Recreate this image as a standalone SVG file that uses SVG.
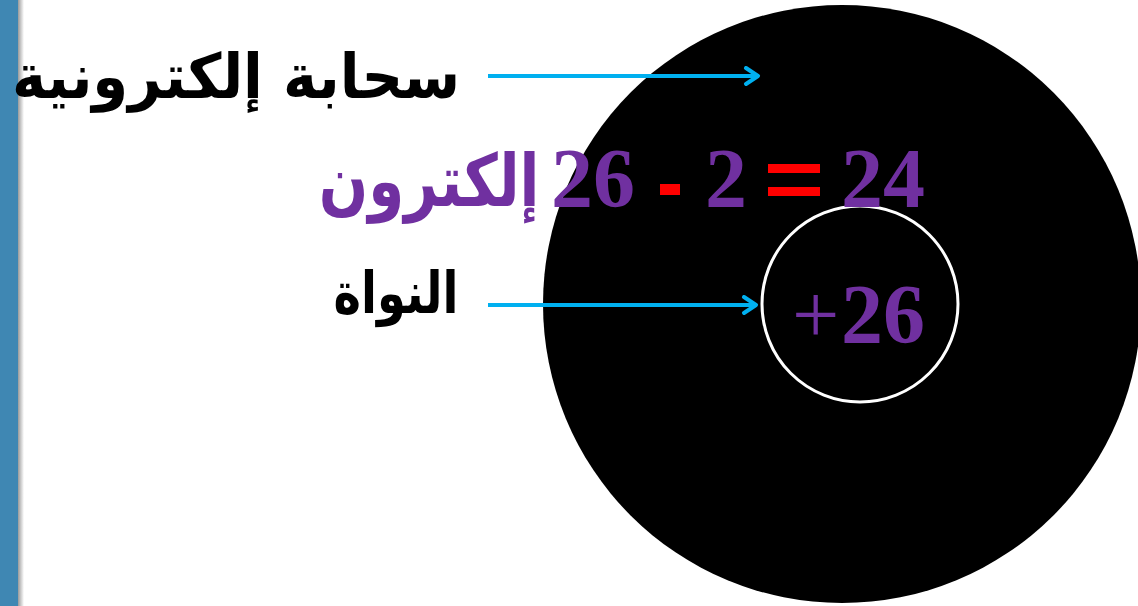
<svg xmlns="http://www.w3.org/2000/svg" width="1138" height="606" viewBox="0 0 1138 606">
<defs>
<linearGradient id="shadow" x1="0" y1="0" x2="1" y2="0">
<stop offset="0" stop-color="#9a9a9a"/>
<stop offset="1" stop-color="#ffffff"/>
</linearGradient>
<marker id="chev" viewBox="0 0 20 20" refX="16" refY="10" markerWidth="20" markerHeight="20" markerUnits="userSpaceOnUse" orient="auto">
<path d="M4,2 L16,10 L4,18" fill="none" stroke="#00B0F0" stroke-width="4" stroke-linecap="round" stroke-linejoin="round"/>
</marker>
<style>
.ar{font-family:"DejaVu Sans",sans-serif;font-weight:bold;}
.num{font-family:"Liberation Serif",serif;font-weight:bold;fill:#7030A0;}
.conn{stroke:#00B0F0;stroke-width:4;fill:none;marker-end:url(#chev);}
</style>
</defs>
<rect width="1138" height="606" fill="#ffffff"/>
<rect x="18" y="0" width="6" height="606" fill="url(#shadow)"/>
<rect x="0" y="0" width="18" height="606" fill="#3F87B3"/>
<g id="cloud">
<circle cx="842" cy="304" r="299" fill="#000000"/>
</g>
<g id="nucleus">
<circle cx="860" cy="304" r="98" fill="#000000" stroke="#ffffff" stroke-width="3"/>
<text x="792" y="343" class="num" font-size="84" style="font-weight:normal">+</text>
<text x="841" y="343" class="num" font-size="84">26</text>
</g>
<g id="label-cloud">
<text x="236" y="98" class="ar" font-size="62" text-anchor="middle" direction="rtl" textLength="448" lengthAdjust="spacingAndGlyphs">سحابة إلكترونية</text>
</g>
<g id="label-nucleus">
<text x="396" y="313" class="ar" font-size="58" text-anchor="middle" direction="rtl" textLength="125" lengthAdjust="spacingAndGlyphs">النواة</text>
</g>
<g id="equation">
<text transform="translate(429,206) scale(1,1.25)" x="0" y="0" class="ar" font-size="58" fill="#7030A0" text-anchor="middle" direction="rtl">إلكترون</text>
<text x="551" y="207" class="num" font-size="84">26</text>
<rect x="660" y="184" width="20" height="11" fill="#FF0000"/>
<text x="705" y="207" class="num" font-size="84">2</text>
<rect x="768" y="164" width="52" height="9" fill="#FF0000"/>
<rect x="768" y="187" width="52" height="9" fill="#FF0000"/>
<text x="841" y="207" class="num" font-size="84">24</text>
</g>
<g id="connectors">
<line x1="488" y1="76" x2="758" y2="76" class="conn"/>
<line x1="488" y1="305" x2="756" y2="305" class="conn"/>
</g>
</svg>
